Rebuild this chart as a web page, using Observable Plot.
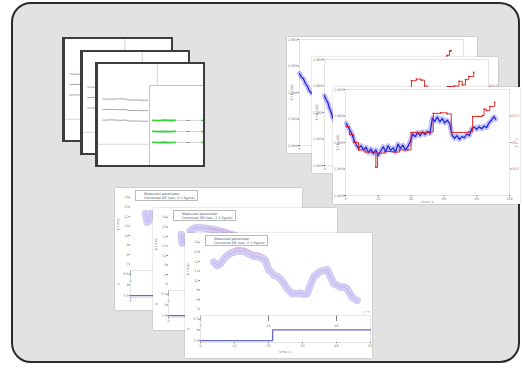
<!DOCTYPE html>
<html>
<head>
<meta charset="utf-8">
<script src="https://cdn.jsdelivr.net/npm/d3@7"></script>
<script src="https://cdn.jsdelivr.net/npm/@observablehq/plot@0.6"></script>
<style>
html,body{margin:0;padding:0;background:#fff;}
#stage{position:relative;width:523px;height:368px;overflow:hidden;font-family:"DejaVu Sans",Arial,sans-serif;}
#box{position:absolute;left:11px;top:2px;width:505px;height:357px;border:2.5px solid #2b2b2b;border-radius:20px;background:#e2e2e2;}
.frame{position:absolute;background:#fff;overflow:hidden;box-sizing:border-box;}
.tl{border:2px solid #3d3d3d;border-left-width:3px;}
.soft{box-shadow:0 0 1.5px rgba(0,0,0,0.3);}
.panel{position:absolute;border-left:1px solid #c4c4c4;border-top:1px solid #c4c4c4;background:#fff;}
.legend{position:absolute;background:#fff;border:0.6px solid #bbb;font-size:3.4px;line-height:4px;color:#555;padding:0.5px 2px 0.5px 8px;white-space:nowrap;}
</style>
</head>
<body>
<div id="stage"><div id="box"></div></div>
<script>
// ---------------- data ----------------
// top-left stack: GUI traces
const tlTime = [4, 12, 20, 26, 29, 36, 44, 47];
const tlTraceA = [65.9, 65.6, 66.0, 65.8, 64.7, 64.9, 64.6, 64.8];
const tlTraceB = [55.3, 55.6, 55.2, 55.4, 54.3, 54.5, 54.2, 54.4];
const tlTraceC = [44.9, 45.2, 44.8, 45.0, 43.9, 44.1, 43.8, 44.0];
const tlSplit = {x: 56, yTop: 77, y: 21, xEnd: 48};
// inner panel: fitted rows
const panelTime = [4, 14, 24, 34, 44];
const panelRowA = [58.3, 57.9, 58.4, 58.0, 58.2];
const panelRowB = [44.6, 44.2, 44.7, 44.3, 44.5];
const panelRowC = [31.1, 30.7, 31.2, 30.8, 31.0];
const panelLevels = [58.1, 44.4, 30.9];
const panelLinks = [{from: 44, to: 63}, {from: 70, to: 88}];
const panelMarks = [{from: 64, to: 70}];
const panelTails = [{from: 89, to: 99}];

// top-right stack
const trYTicks = [2880, 2885, 2890, 2895, 2900];
const trRightTicks = [2885, 2890, 2895];
const trRightLabels = ["29.5", "30", "30.5"];
const trXTicks = [0, 20, 40, 60, 80, 100];

const aBlueT = [0, 1.2, 2.4, 3.6, 4.8, 6.0, 7.2];
const aBlueV = [2893.6, 2892.9, 2892.6, 2891.7, 2891.2, 2890.3, 2889.9];
const aRedT = [80, 86, 88.5, 90, 91.5, 92.5];
const aRedV = [2893.5, 2894.5, 2896.6, 2897.0, 2897.8, 2897.9];

const bBlueT = [0, 1, 2, 3, 4, 5, 6, 7];
const bBlueV = [2893.2, 2892.4, 2891.9, 2890.8, 2890.1, 2889.0, 2888.5, 2888.2];
const bRedT = [40, 50, 52, 53, 56, 59, 61, 63, 73, 75, 77, 79, 82, 84, 86, 88, 91];
const bRedV = [2891.5, 2891.5, 2894.6, 2896.0, 2896.3, 2896.1, 2895.0, 2892.0, 2892.0, 2894.9, 2894.9, 2895.0, 2895.9, 2895.2, 2896.2, 2896.8, 2897.6];

const cBlueT = [0.5, 2, 3.5, 5, 6.5, 8, 9.5, 11, 12.5, 14, 15.5, 17, 18.5, 20, 21.5, 23, 24.5, 26, 27.5, 29, 30.5, 32, 33.5, 35, 36.5, 38, 39.5, 41, 42.5, 44, 45.5, 47, 48.5, 50, 51.5, 53, 54.5, 56, 57.5, 59, 60.5, 62, 63.5, 65, 66.5, 68, 69.5, 71, 72.5, 74, 75.5, 77, 78.5, 80, 81.5, 83, 84.5, 86, 87.5, 89, 90.5, 91.5];
const cBlueV = [2893.6, 2892.7, 2891.9, 2890.6, 2889.6, 2888.9, 2889.4, 2888.6, 2889.1, 2888.1, 2888.8, 2887.9, 2888.6, 2887.6, 2888.4, 2889.2, 2888.3, 2889.4, 2888.5, 2889.0, 2888.2, 2889.7, 2888.9, 2889.5, 2888.6, 2889.2, 2890.2, 2891.6, 2891.1, 2891.9, 2891.3, 2892.0, 2891.5, 2892.1, 2891.7, 2894.6, 2894.0, 2894.8, 2893.9, 2894.5, 2893.7, 2894.2, 2893.6, 2891.4, 2890.8, 2891.3, 2890.6, 2891.1, 2890.9, 2891.6, 2891.3, 2892.6, 2892.9, 2892.5, 2893.0, 2892.6, 2893.1, 2892.8, 2893.7, 2894.2, 2894.9, 2894.4];
const cRedT = [0.5, 2.5, 5, 8, 12, 16, 18.5, 19.5, 24, 29, 33, 38, 40, 46, 51, 53.5, 58, 62, 64.5, 70, 75, 77.5, 81, 83.5, 84.5, 86, 88, 91];
const cRedV = [2893.0, 2891.5, 2890.0, 2888.6, 2888.2, 2888.2, 2885.3, 2888.0, 2888.3, 2888.2, 2888.6, 2888.6, 2891.9, 2891.9, 2892.0, 2895.5, 2895.6, 2895.4, 2891.9, 2891.9, 2892.0, 2894.9, 2894.9, 2895.1, 2896.3, 2896.0, 2896.8, 2897.6];

// bottom stack
const bYTicks = [7, 8, 9, 10, 11, 12, 13, 14];
const bYLabel = "φ / deg";
const bStepTicks = [0, 1, 2];
const bStepLabels = ["7.5", "8", "8.5"];
const bXTicks = [0, 10, 20, 30, 40, 50];
const bXTicksBack = [0];
const legendLabels = ["Measured parameter", "Corrected DR (sec. 2.1 figure)"];

const b1BandT = [4.4, 4.9, 5.3, 5.9];
const b1BandV = [12.3, 11.4, 11.5, 12.3];
const b1StepT = [0, 30, 50];
const b1StepV = [0, 1, 1];

const b2BlobT = [3.8, 4.1, 4.5];
const b2BlobV = [12.2, 11.3, 12.0];
const b2BandT = [6.5, 8, 10, 12, 14, 16, 18, 20, 22];
const b2BandV = [12.6, 12.9, 12.9, 12.8, 12.7, 12.5, 12.3, 12.1, 11.5];
const b2CorrT = [12, 14, 16, 18, 20];
const b2CorrV = [12.9, 12.8, 12.7, 12.5, 12.3];
const b2StepT = [0, 25, 50];
const b2StepV = [0, 1, 1];

const b3BandT = [3.9, 4.9, 5.9, 6.9, 7.9, 8.8, 9.8, 10.8, 11.8, 12.8, 13.7, 14.7, 15.7, 16.6, 17.6, 19.1, 20.1, 21.0, 21.6, 22.6, 23.5, 24.5, 25.5, 27.0, 28.2, 29.4, 30.4, 31.4, 32.4, 33.3, 34.3, 35.3, 36.3, 37.3, 38.2, 39.2, 40.2, 41.2, 42.1, 43.1, 44.6, 45.4, 46.1];
const b3BandV = [11.93, 11.55, 11.76, 12.3, 12.63, 12.85, 12.98, 13.12, 13.08, 13.1, 12.87, 12.75, 12.53, 12.55, 12.39, 12.11, 11.05, 10.8, 10.53, 10.45, 10.18, 9.7, 9.13, 8.6, 8.62, 8.66, 8.55, 8.6, 9.6, 10.35, 10.7, 10.98, 11.05, 11.13, 10.4, 9.65, 9.5, 9.29, 9.35, 9.13, 8.24, 8.05, 7.89];
const b3CorrT = [9.8, 11.8, 13.7, 15.7, 17.6, 19.1];
const b3CorrV = [13.35, 13.45, 13.25, 12.95, 12.85, 12.55];
const b3StepT = [0, 21.2, 50];
const b3StepV = [0, 1, 1];

// ---------------- helpers ----------------
const stage = document.getElementById("stage");
const pts = (T, V) => T.map((t, i) => ({t, v: V[i]}));
function makeFrame(cls, l, t, w, h) {
  const d = document.createElement("div");
  d.className = "frame " + cls;
  Object.assign(d.style, {left: l + "px", top: t + "px", width: w + "px", height: h + "px"});
  stage.appendChild(d);
  return d;
}
function put(parent, node, l, t) {
  node.style.position = "absolute";
  node.style.left = l + "px";
  node.style.top = t + "px";
  node.style.maxWidth = "none";
  parent.appendChild(node);
  return node;
}
const tinyStyle = {background: "transparent", fontSize: "3.4px", color: "#7a7a7a", overflow: "visible", fontFamily: "DejaVu Sans, sans-serif"};

// ---------------- top-left ----------------
function tlPlot(w, h) {
  return Plot.plot({
    width: w, height: h, margin: 0,
    x: {domain: [0, 100], axis: null}, y: {domain: [0, 100], axis: null},
    style: {background: "transparent", overflow: "visible"},
    marks: [
      Plot.ruleX([tlSplit.x], {y1: tlSplit.yTop, y2: 100, stroke: "#c9c9c9", strokeWidth: 0.8}),
      Plot.ruleY([tlSplit.y], {x1: 0, x2: tlSplit.xEnd, stroke: "#cfcfcf", strokeWidth: 0.8}),
      Plot.line(pts(tlTime, tlTraceA), {x: "t", y: "v", stroke: "#b3919a", strokeWidth: 0.9}),
      Plot.line(pts(tlTime, tlTraceB), {x: "t", y: "v", stroke: "#9c9c9c", strokeWidth: 0.9}),
      Plot.line(pts(tlTime, tlTraceC), {x: "t", y: "v", stroke: "#a39a9a", strokeWidth: 0.9})
    ]
  });
}
function panelPlot(w, h) {
  const rows = [panelRowA, panelRowB, panelRowC];
  const seg = (arr) => panelLevels.flatMap(y => arr.map(s => ({y, x1: s.from, x2: s.to})));
  return Plot.plot({
    width: w, height: h, margin: 0,
    x: {domain: [0, 100], axis: null}, y: {domain: [0, 100], axis: null},
    style: {background: "transparent", overflow: "visible"},
    marks: [
      ...rows.map(r => Plot.line(pts(panelTime, r), {x: "t", y: "v", stroke: "#3ccf3c", strokeWidth: 1.8})),
      Plot.ruleY(seg(panelLinks), {y: "y", x1: "x1", x2: "x2", stroke: "#b8b8b8", strokeWidth: 0.6}),
      Plot.ruleY(seg(panelMarks), {y: "y", x1: "x1", x2: "x2", stroke: "#8a8a8a", strokeWidth: 1}),
      Plot.ruleY(seg(panelTails), {y: "y", x1: "x1", x2: "x2", stroke: "#4bd04b", strokeWidth: 1.4})
    ]
  });
}
[[62, 37, 111, 105], [80, 50, 110, 105], [95, 62, 110, 105]].forEach(([l, t, w, h]) => {
  const f = makeFrame("tl", l, t, w, h);
  put(f, tlPlot(w - 5, h - 4), 0, 0);
  const p = document.createElement("div");
  p.className = "panel";
  Object.assign(p.style, {left: "51px", top: "21px", width: "60px", height: "84px"});
  f.appendChild(p);
  put(p, panelPlot(57, 81), 0, 0);
});

// ---------------- top-right ----------------
function trPlot(blue, red) {
  return Plot.plot({
    width: 187, height: 117, marginLeft: 12, marginRight: 11, marginTop: 2, marginBottom: 9,
    x: {domain: [0, 100]}, y: {domain: [2880, 2900]},
    style: tinyStyle,
    marks: [
      Plot.frame({stroke: "#d0d0d0", strokeWidth: 0.6}),
      Plot.axisY({ticks: trYTicks, tickSize: 1.5, tickPadding: 0.6, label: "T / K (2D)", labelAnchor: "center", labelOffset: 9, labelArrow: "none"}),
      Plot.axisY({anchor: "right", ticks: trRightTicks, tickFormat: d => trRightLabels[trRightTicks.indexOf(d)], tickSize: 1.5, tickPadding: 0.6, fill: "#d06a6a", label: "T / °C", labelAnchor: "center", labelOffset: 8, labelArrow: "none"}),
      Plot.axisX({ticks: trXTicks, tickSize: 1.5, tickPadding: 0.6, label: "time / s", labelAnchor: "center", labelOffset: 7, labelArrow: "none"}),
      ...blue.map(b => Plot.line(b, {x: "t", y: "v", stroke: "#6464f0", strokeWidth: 5, strokeOpacity: 0.4, strokeLinejoin: "round"})),
      ...blue.map(b => Plot.line(b, {x: "t", y: "v", stroke: "#1e1ed8", strokeWidth: 1.2})),
      ...red.map(r => Plot.line(r, {x: "t", y: "v", curve: "step-after", stroke: "#e01818", strokeWidth: 0.9})),
      ...red.map(r => Plot.dot(r, {x: "t", y: "v", r: 0.8, fill: "#e01818"}))
    ]
  });
}
put(makeFrame("soft", 287, 37, 190, 116), trPlot([pts(aBlueT, aBlueV)], [pts(aRedT, aRedV)]), 0, 0);
put(makeFrame("soft", 312, 57, 186, 116), trPlot([pts(bBlueT, bBlueV)], [pts(bRedT, bRedV)]), 0, 0);
put(makeFrame("soft", 333, 87, 187, 117), trPlot([pts(cBlueT, cBlueV)], [pts(cRedT, cRedV)]), 0, 0);

// ---------------- bottom ----------------
function bFrame(l, t, w, h, bands, corr, stepT, stepV, front) {
  const f = makeFrame("soft", l, t, w, h);
  const upper = Plot.plot({
    width: w, height: 82, marginLeft: 15, marginRight: 2, marginTop: 7, marginBottom: 0,
    x: {domain: [0, 50]}, y: {domain: [6.32, 14.2]},
    style: tinyStyle,
    marks: [
      Plot.axisY({ticks: bYTicks, tickSize: 1.2, tickPadding: 0.6, label: null}),
      Plot.text([bYLabel], {frameAnchor: "left", rotate: -90, dx: -12.5, dy: -2.8, fill: "#7a7a7a"}),
      ...bands.map(s => Plot.line(s, {x: "t", y: "v", stroke: "#d3cdf6", strokeWidth: 7.5, strokeLinejoin: "round", strokeLinecap: "round"})),
      ...bands.map(s => Plot.line(s, {x: "t", y: "v", stroke: "#a79de4", strokeWidth: 0.5, strokeDasharray: "1,1"})),
      ...corr.map(s => Plot.line(s, {x: "t", y: "v", stroke: "#e7a0bd", strokeWidth: 0.8, strokeDasharray: "1.5,1"}))
    ]
  });
  put(f, upper, 0, 0);
  const lower = Plot.plot({
    width: w, height: 43, marginLeft: 15, marginRight: 2, marginTop: 0, marginBottom: 16,
    x: {domain: [0, 50]}, y: {domain: [-0.18, 2.36]},
    style: tinyStyle,
    marks: [
      Plot.frame({stroke: "#d4d4d4", strokeWidth: 0.6}),
      Plot.axisY({ticks: bStepTicks, tickFormat: d => bStepLabels[bStepTicks.indexOf(d)], tickSize: 1.2, tickPadding: 0.6, label: "T", labelAnchor: "center", labelOffset: 13, labelArrow: "none"}),
      Plot.axisX({ticks: front ? bXTicks : bXTicksBack, tickSize: 1.2, tickPadding: 0.6, label: front ? "time / s" : null, labelAnchor: "center", labelOffset: 10, labelArrow: "none"}),
      Plot.line(pts(stepT, stepV), {x: "t", y: "v", curve: "step-after", stroke: "#6565cc", strokeWidth: 1.3})
    ]
  });
  put(f, lower, 0, 82);
  const lg = document.createElement("div");
  lg.className = "legend";
  lg.innerHTML = legendLabels.map(s => `<div>${s}</div>`).join("");
  put(f, lg, 20, 2);
  return f;
}
bFrame(115, 188, 187, 122, [pts(b1BandT, b1BandV)], [], b1StepT, b1StepV, false);
bFrame(153, 208, 184, 122, [pts(b2BlobT, b2BlobV), pts(b2BandT, b2BandV)], [pts(b2CorrT, b2CorrV)], b2StepT, b2StepV, false);
bFrame(185, 233, 187, 125, [pts(b3BandT, b3BandV)], [pts(b3CorrT, b3CorrV)], b3StepT, b3StepV, true);
</script>
</body>
</html>
